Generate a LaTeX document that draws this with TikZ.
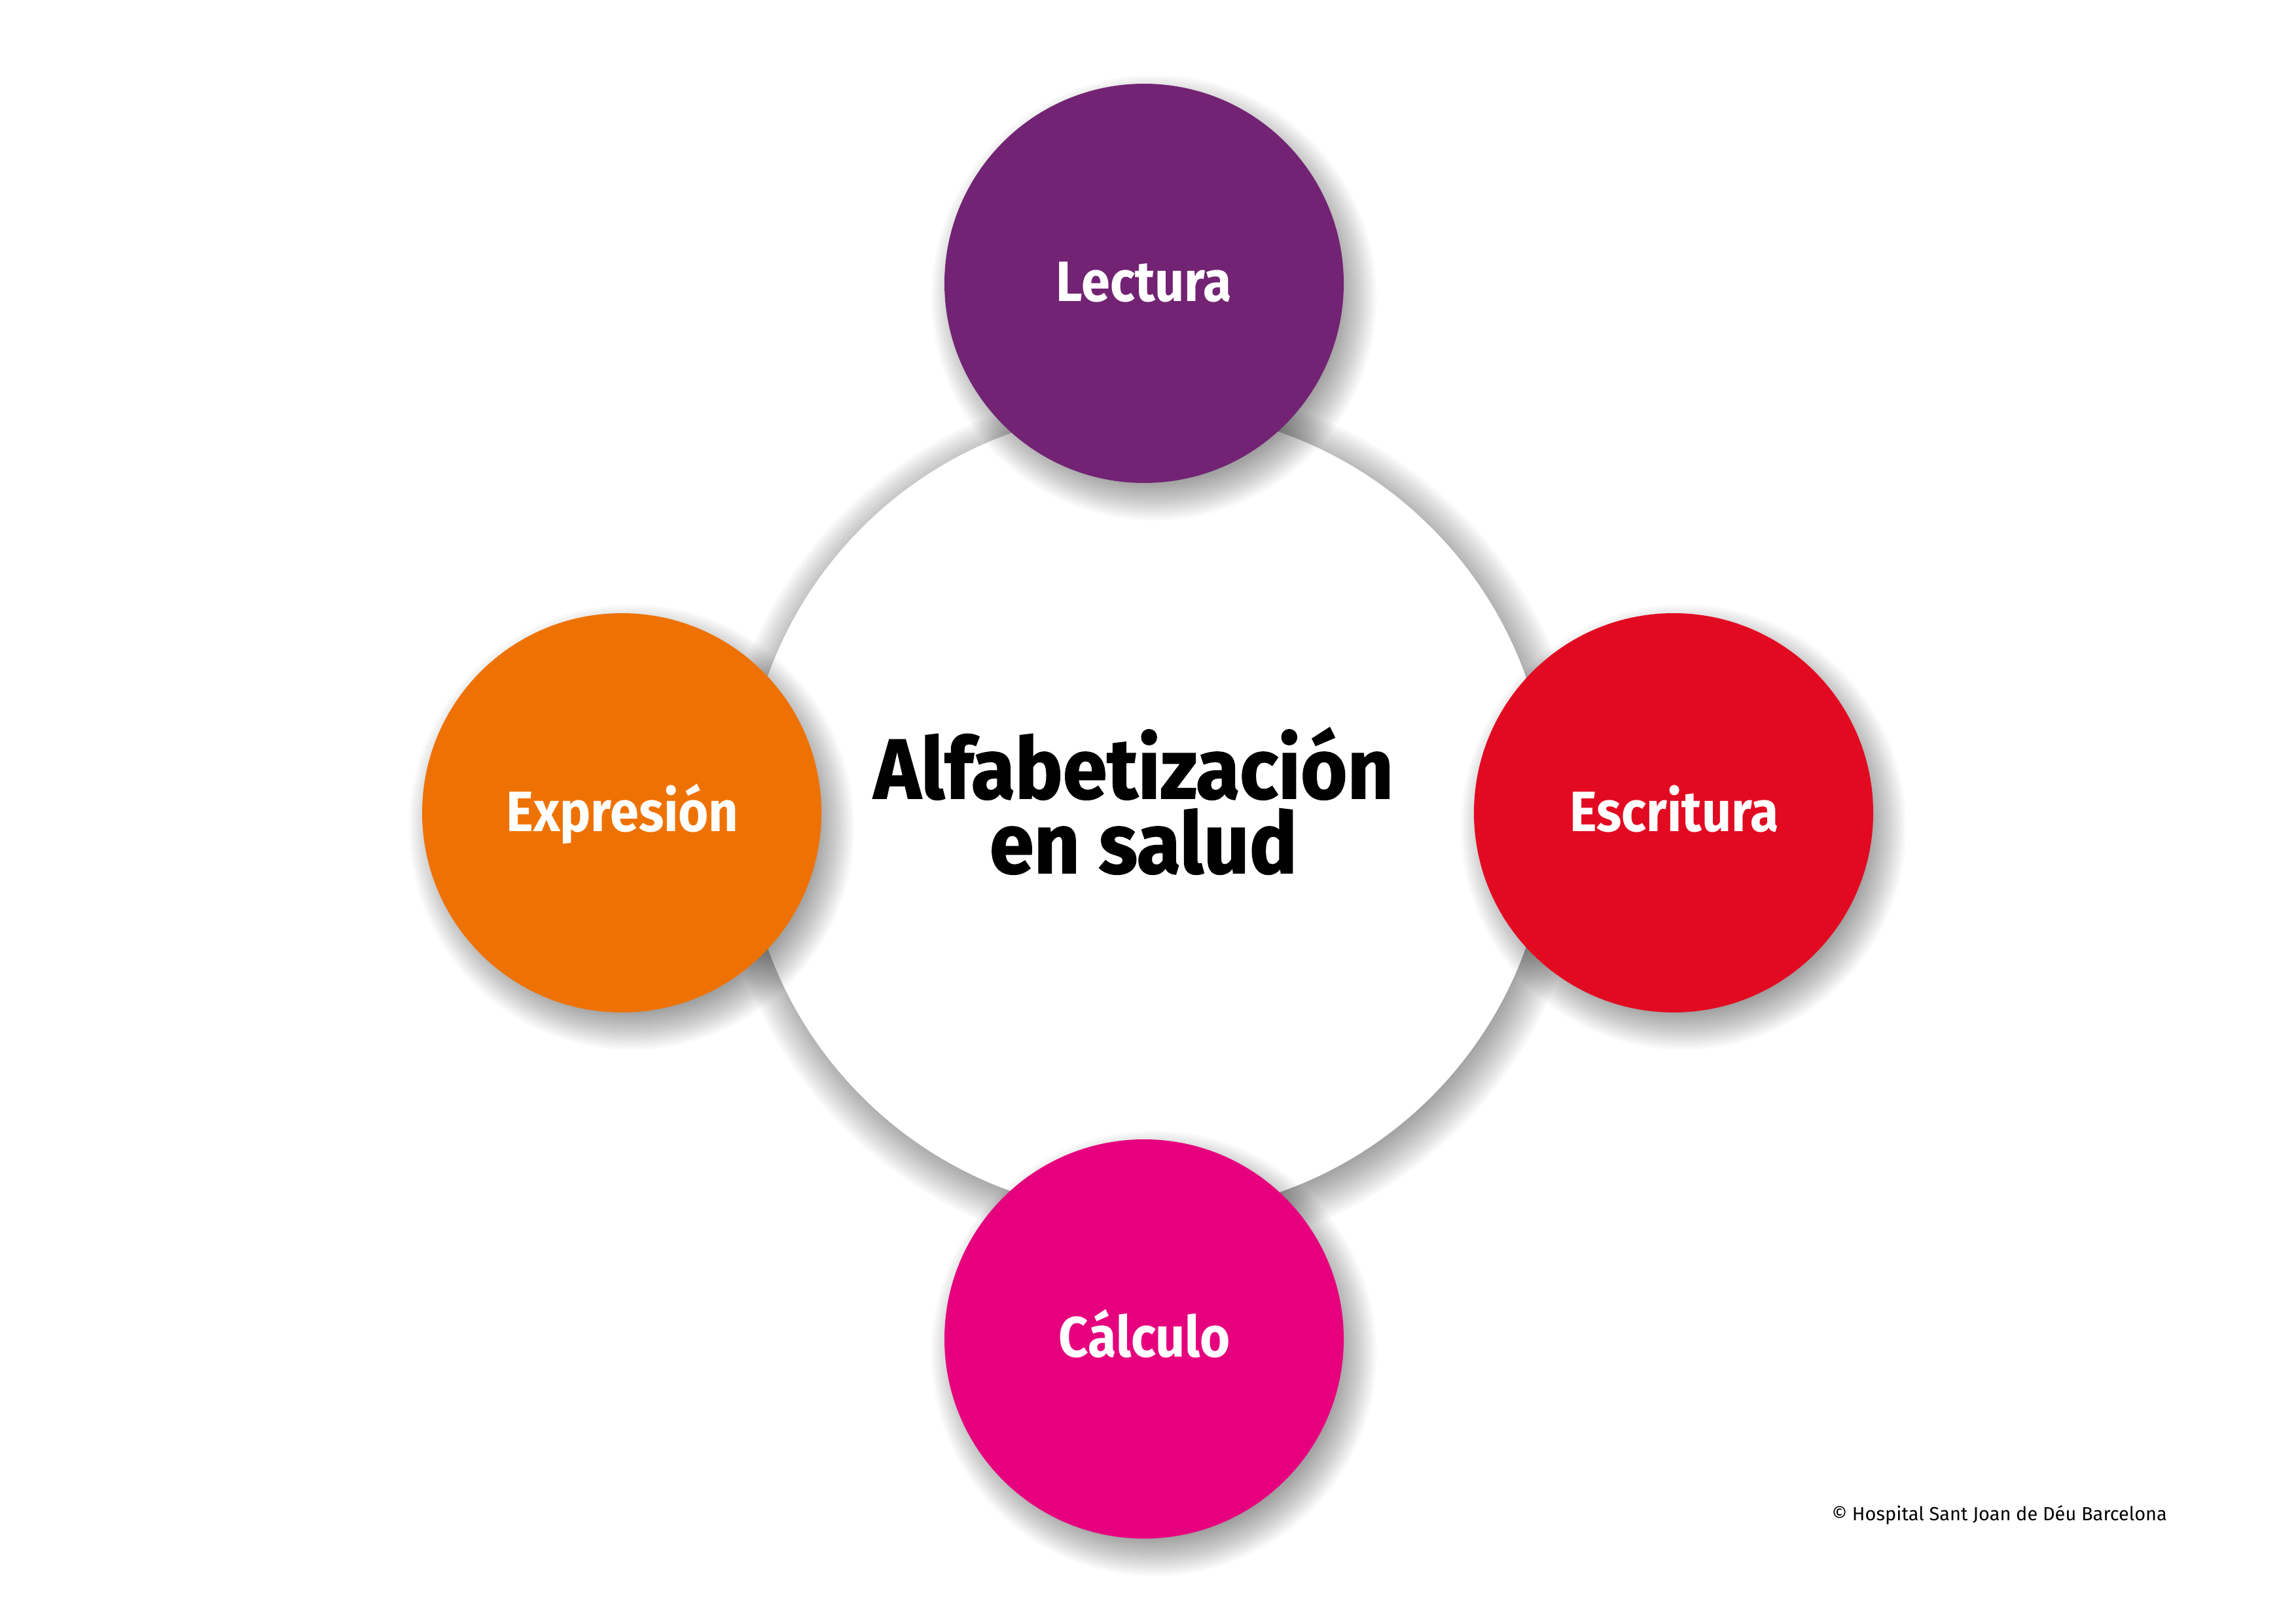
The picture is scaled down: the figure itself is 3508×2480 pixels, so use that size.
\documentclass[tikz,border=0pt]{standalone}
\usepackage{fontspec}
\setmainfont{Fira Sans}
\newfontfamily\labelfont{Fira Sans}[FakeStretch=0.91]
\newfontfamily\titlefont{Fira Sans}[FakeStretch=0.94,FakeBold=1.2]
\newfontfamily\notefont{Fira Sans}
\definecolor{cpurple}{RGB}{114,35,115}
\definecolor{cred}{RGB}{226,10,33}
\definecolor{corange}{RGB}{238,114,3}
\definecolor{cmagenta}{RGB}{230,0,126}
\newcommand{\circshadow}[6]{%
  \foreach \k in {0,...,#5}{%
    \pgfmathsetmacro\rr{#3+#4-2*#4*\k/#5}%
    \fill[black,opacity=#6] (#1,#2) circle[radius=\rr];
  }}
\begin{document}
\begin{tikzpicture}[x=0.25pt,y=-0.25pt,
  sat/.style={circle, inner sep=0pt, minimum size=152.5pt, draw=none},
  core/.style={circle, inner sep=0pt, minimum size=307.5pt, draw=none, fill=white},
  lbl/.style={text=white, font=\labelfont\bfseries\fontsize{21.75}{26}\selectfont, anchor=base, inner sep=0pt},
  ttl/.style={text=black, font=\titlefont\bfseries\fontsize{32.5}{28.5}\selectfont, align=center, anchor=center, inner sep=0pt},
  note/.style={text=black, font=\notefont\fontsize{7.25}{9}\selectfont, anchor=base west, inner sep=0pt}]
\useasboundingbox (0,0) rectangle (3508,2480);
\fill[white] (0,0) rectangle (3508,2480);
% central circle
\circshadow{1760}{1253}{615}{50}{20}{0.03}
\node[core] (center) at (1752,1241) {};
% satellite shadows
\circshadow{1763}{455}{305}{35}{20}{0.025}
\circshadow{2572}{1264}{305}{35}{20}{0.025}
\circshadow{965}{1264}{305}{35}{20}{0.025}
\circshadow{1763}{2068}{305}{35}{20}{0.025}
% satellites
\node[sat, fill=cpurple] (lectura) at (1748,433) {};
\node[sat, fill=cred] (escritura) at (2557,1242) {};
\node[sat, fill=corange] (expresion) at (950,1242) {};
\node[sat, fill=cmagenta] (calculo) at (1748,2046) {};
% labels
\node[lbl] (lecturaT) at (1748,461) {Lectura};
\node[lbl] (escrituraT) at (2558,1270) {Escritura};
\node[lbl] (expresionT) at (951,1270) {Expresión};
\node[lbl] (calculoT) at (1749,2073) {Cálculo};
% title
\node[ttl] (title) at (1732,1224) {Alfabetización\\\hspace*{7.5pt}en salud};
% copyright
\node[note] (copy) at (2798,2323) {© Hospital Sant Joan de Déu Barcelona};
\end{tikzpicture}
\end{document}
